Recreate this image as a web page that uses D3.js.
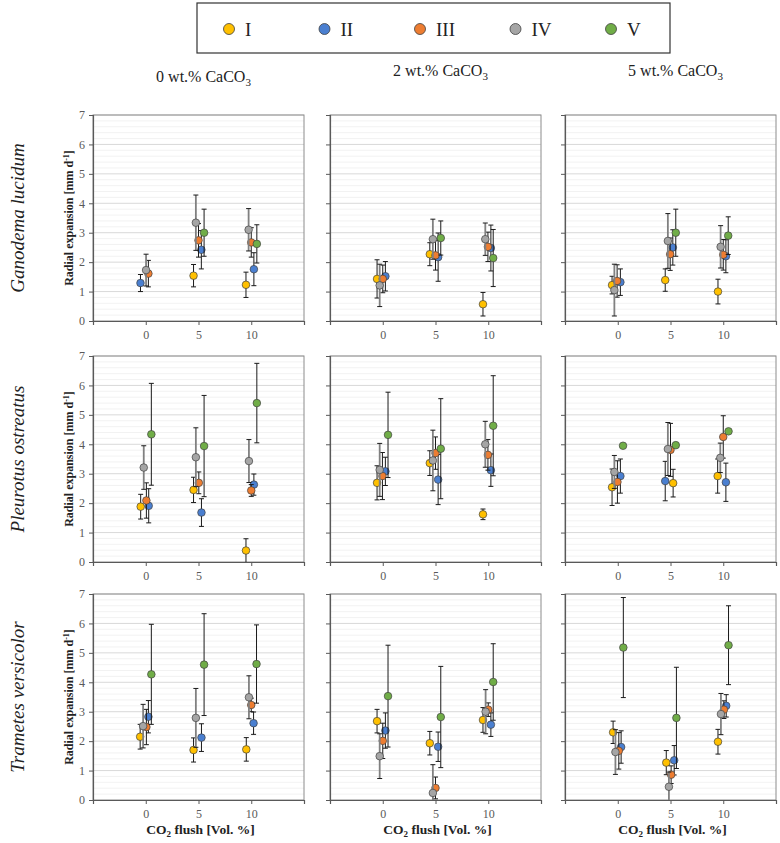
<!DOCTYPE html>
<html>
<head>
<meta charset="utf-8">
<script src="https://cdn.jsdelivr.net/npm/d3@7"></script>
<style>
  body { margin: 0; background: #fff; }
  svg { display: block; }
  svg text { font-family: "Liberation Serif", "DejaVu Serif", serif; }
</style>
</head>
<body>
<svg id="chart" width="780" height="843"></svg>
<script>
// Radial expansion of three fungi under CO2 flush, at three CaCO3 contents.

// ─── Data ────────────────────────────────────────────────────────────────────
const SERIES  = ['I', 'II', 'III', 'IV', 'V'];
const COLORS  = ['#FFC000', '#4A7FD0', '#ED7D31', '#A5A5A5', '#70AD47'];
const FUNGI   = ['Ganodema lucidum', 'Pleurotus ostreatus', 'Trametes versicolor'];
const CACO3   = ['0', '2', '5'];
const X_TICKS = [0, 5, 10];
const Y_TICKS = [0, 1, 2, 3, 4, 5, 6, 7];

// [series, x (CO2 flush, jittered), mean, ± error]
const GL_0 = [
  ['II', -0.5, 1.29, 0.29], ['IV', 0.03, 1.73, 0.54], ['III', 0.25, 1.61, 0.45],
  ['I', 4.53, 1.54, 0.38], ['IV', 4.75, 3.34, 0.94], ['III', 5.0, 2.74, 0.57], ['II', 5.27, 2.42, 0.65], ['V', 5.53, 3.0, 0.8],
  ['I', 9.5, 1.23, 0.43], ['IV', 9.75, 3.1, 0.72], ['III', 10.0, 2.67, 0.5], ['II', 10.25, 1.76, 0.56], ['V', 10.53, 2.62, 0.65],
];
const GL_2 = [
  ['I', -0.54, 1.43, 0.65], ['IV', -0.29, 1.21, 0.72], ['III', 0, 1.43, 0.47], ['II', 0.25, 1.52, 0.5],
  ['I', 4.46, 2.27, 0.39], ['IV', 4.75, 2.78, 0.68], ['III', 5.0, 2.23, 0.5], ['II', 5.25, 2.17, 0.82], ['V', 5.5, 2.82, 0.58],
  ['I', 9.5, 0.57, 0.4], ['IV', 9.72, 2.78, 0.55], ['III', 9.97, 2.52, 0.5], ['II', 10.25, 2.48, 0.78], ['V', 10.47, 2.14, 0.97],
];
const GL_5 = [
  ['I', -0.54, 1.22, 0.3], ['IV', -0.32, 1.05, 0.88], ['III', -0.06, 1.36, 0.55], ['II', 0.25, 1.32, 0.45],
  ['I', 4.5, 1.39, 0.38], ['IV', 4.75, 2.72, 0.93], ['III', 4.97, 2.27, 0.55], ['II', 5.22, 2.5, 0.6], ['V', 5.5, 3.0, 0.8],
  ['I', 9.5, 1.0, 0.42], ['IV', 9.75, 2.52, 0.72], ['III', 10.0, 2.25, 0.52], ['II', 10.25, 2.2, 0.56], ['V', 10.47, 2.9, 0.64],
];
const PO_0 = [
  ['I', -0.48, 1.88, 0.42], ['IV', -0.19, 3.21, 0.74], ['III', 0.06, 2.09, 0.6], ['II', 0.28, 1.91, 0.58], ['V', 0.53, 4.34, 1.73],
  ['I', 4.53, 2.45, 0.43], ['IV', 4.75, 3.56, 1.0], ['III', 5.03, 2.69, 0.37], ['II', 5.28, 1.68, 0.47], ['V', 5.53, 3.94, 1.72],
  ['I', 9.5, 0.39, 0.4], ['IV', 9.78, 3.43, 0.73], ['III', 10.0, 2.43, 0.2], ['II', 10.25, 2.63, 0.36], ['V', 10.53, 5.4, 1.35],
];
const PO_2 = [
  ['I', -0.54, 2.69, 0.58], ['IV', -0.29, 3.13, 0.9], ['III', -0.03, 2.92, 0.8], ['II', 0.25, 3.08, 0.48], ['V', 0.5, 4.32, 1.45],
  ['I', 4.46, 3.36, 0.42], ['IV', 4.75, 3.45, 1.03], ['III', 5.0, 3.7, 0.55], ['II', 5.25, 2.8, 0.85], ['V', 5.5, 3.85, 1.7],
  ['I', 9.5, 1.62, 0.18], ['IV', 9.72, 4.0, 0.78], ['III', 9.97, 3.64, 0.52], ['II', 10.25, 3.12, 0.55], ['V', 10.47, 4.63, 1.7],
];
const PO_5 = [
  ['I', -0.54, 2.54, 0.62], ['IV', -0.32, 3.06, 0.56], ['III', -0.03, 2.72, 0.72], ['II', 0.25, 2.92, 0.58], ['V', 0.5, 3.95, 0],
  ['II', 4.5, 2.75, 0.67], ['IV', 4.75, 3.84, 0.9], ['III', 5.0, 3.81, 0.9], ['I', 5.25, 2.68, 0.47], ['V', 5.5, 3.97, 0],
  ['I', 9.47, 2.92, 0.58], ['IV', 9.72, 3.54, 0.5], ['III', 10.0, 4.25, 0.72], ['II', 10.25, 2.71, 0.65], ['V', 10.5, 4.44, 0],
];
const TV_0 = [
  ['I', -0.53, 2.15, 0.42], ['IV', -0.25, 2.51, 0.74], ['III', 0.06, 2.48, 0.6], ['II', 0.25, 2.83, 0.55], ['V', 0.53, 4.27, 1.7],
  ['I', 4.53, 1.7, 0.41], ['IV', 4.75, 2.79, 1.0], ['II', 5.28, 2.12, 0.47], ['V', 5.53, 4.6, 1.73],
  ['I', 9.53, 1.72, 0.4], ['IV', 9.78, 3.49, 0.73], ['III', 10.0, 3.23, 0.23], ['II', 10.22, 2.61, 0.38], ['V', 10.5, 4.62, 1.33],
];
const TV_2 = [
  ['I', -0.54, 2.68, 0.4], ['IV', -0.29, 1.49, 0.76], ['III', 0, 2.01, 0.6], ['II', 0.25, 2.36, 0.6], ['V', 0.5, 3.53, 1.73],
  ['I', 4.46, 1.93, 0.4], ['IV', 4.75, 0.24, 0.96], ['III', 5.0, 0.41, 0.37], ['II', 5.25, 1.81, 0.5], ['V', 5.5, 2.82, 1.72],
  ['I', 9.5, 2.72, 0.42], ['IV', 9.75, 3.0, 0.75], ['III', 10.0, 3.07, 0.23], ['II', 10.25, 2.56, 0.4], ['V', 10.47, 4.01, 1.3],
];
const TV_5 = [
  ['I', -0.44, 2.3, 0.38], ['IV', -0.22, 1.63, 0.76], ['III', 0.1, 1.67, 0.62], ['II', 0.32, 1.8, 0.55], ['V', 0.53, 5.18, 1.7],
  ['I', 4.6, 1.27, 0.41], ['IV', 4.85, 0.45, 0.5], ['III', 5.06, 0.86, 0.3], ['II', 5.35, 1.35, 0.5], ['V', 5.56, 2.79, 1.72],
  ['I', 9.5, 1.98, 0.42], ['IV', 9.78, 2.92, 0.7], ['III', 10.06, 3.07, 0.3], ['II', 10.28, 3.2, 0.38], ['V', 10.5, 5.26, 1.34],
];

const PANELS = [
  [GL_0, GL_2, GL_5],
  [PO_0, PO_2, PO_5],
  [TV_0, TV_2, TV_5],
];

// ─── Layout ──────────────────────────────────────────────────────────────────
const SERIF  = '"Liberation Serif", "DejaVu Serif", serif';
const COL_X  = [93, 330, 565];
const ROW_Y  = [115, 356, 594];
const PW = 211, PH = 206;

const svg = d3.select('#chart').attr('font-family', SERIF);

const x = d3.scaleLinear().domain([-5, 15]).range([0, PW]);
const y = d3.scaleLinear().domain([0, 7]).range([PH, 0]);

// ─── Legend ──────────────────────────────────────────────────────────────────
svg.append('rect')
  .attr('x', 197).attr('y', 3).attr('width', 473).attr('height', 50)
  .attr('fill', '#fff').attr('stroke', '#333').attr('stroke-width', 1.2);

const legX = d3.scalePoint().domain(SERIES).range([229, 611]);
const leg = svg.append('g').selectAll('g').data(SERIES).join('g')
  .attr('transform', s => `translate(${legX(s)},29)`);
leg.append('circle').attr('r', 5.5)
  .attr('fill', (s, i) => COLORS[i]).attr('stroke', '#404040').attr('stroke-width', 0.8);
leg.append('text').attr('x', 16).attr('y', 6.5)
  .attr('font-family', SERIF)
  .attr('font-size', 19).attr('fill', '#222').text(s => s);

// ─── Column / row titles ─────────────────────────────────────────────────────
const COL_TITLE_Y = [82, 76, 76];
CACO3.forEach((c, ci) => {
  const t = svg.append('text')
    .attr('x', COL_X[ci] + PW / 2 + 5)
    .attr('y', COL_TITLE_Y[ci])
    .attr('text-anchor', 'middle')
    .attr('font-family', SERIF)
    .attr('font-size', 16).attr('fill', '#222');
  t.append('tspan').text(`${c} wt.% CaCO`);
  t.append('tspan').attr('font-size', 11).attr('dy', 4).text('3');
});

FUNGI.forEach((f, ri) => {
  svg.append('text')
    .attr('transform', `translate(24,${ROW_Y[ri] + PH / 2}) rotate(-90)`)
    .attr('text-anchor', 'middle')
    .attr('font-family', SERIF)
    .attr('font-size', 19).attr('font-style', 'italic').attr('fill', '#222')
    .text(f);

  const yt = svg.append('text')
    .attr('transform', `translate(73,${ROW_Y[ri] + PH / 2}) rotate(-90)`)
    .attr('text-anchor', 'middle')
    .attr('font-family', SERIF)
    .attr('font-size', 12).attr('font-weight', 'bold').attr('fill', '#222');
  yt.append('tspan').text('Radial expansion [mm d');
  yt.append('tspan').attr('font-size', 8).attr('dy', -4).text('-1');
  yt.append('tspan').attr('dy', 4).text(']');
});

// ─── Panels ──────────────────────────────────────────────────────────────────
PANELS.forEach((row, ri) => {
  row.forEach((pts, ci) => {
    const g = svg.append('g')
      .attr('transform', `translate(${COL_X[ci]},${ROW_Y[ri]})`);

    const clipId = `clip-${ri}-${ci}`;
    g.append('clipPath').attr('id', clipId)
      .append('rect').attr('width', PW).attr('height', PH);

    // gridlines (minor every 0.2, major every 1)
    const minor = d3.range(0.2, 7, 0.2).filter(v => Math.abs(v - Math.round(v)) > 0.01);
    g.selectAll('line.minor').data(minor).join('line')
      .attr('x1', 0).attr('x2', PW)
      .attr('y1', d => y(d)).attr('y2', d => y(d))
      .attr('stroke', '#efefef').attr('stroke-width', 0.8);
    g.selectAll('line.major').data(Y_TICKS.slice(1)).join('line')
      .attr('x1', 0).attr('x2', PW)
      .attr('y1', d => y(d)).attr('y2', d => y(d))
      .attr('stroke', '#d9d9d9').attr('stroke-width', 1);

    // frame
    g.append('rect').attr('width', PW).attr('height', PH)
      .attr('fill', 'none').attr('stroke', '#8c8c8c').attr('stroke-width', 1);

    // axes
    const yAxis = d3.axisLeft(y).tickValues(Y_TICKS).tickSize(4)
      .tickFormat(ci === 0 ? d3.format('d') : '');
    const ya = g.append('g').call(yAxis).attr('font-family', SERIF);
    ya.select('.domain').attr('stroke', '#595959').attr('stroke-width', 1.2);
    ya.selectAll('.tick line').attr('stroke', '#595959');
    ya.selectAll('.tick text').attr('font-size', 12).attr('fill', '#595959').attr('x', -8);

    const xAxis = d3.axisBottom(x).tickValues([-5, 0, 5, 10, 15]).tickSize(4)
      .tickFormat(d => X_TICKS.includes(d) ? d : '');
    const xa = g.append('g').attr('transform', `translate(0,${PH})`).call(xAxis)
      .attr('font-family', SERIF);
    xa.select('.domain').attr('stroke', '#595959').attr('stroke-width', 1.2);
    xa.selectAll('.tick line').attr('stroke', '#595959');
    xa.selectAll('.tick text').attr('font-size', 12).attr('fill', '#595959').attr('y', 9);

    // points in series order: error bar, then marker
    const sorted = pts.slice().sort((a, b) => SERIES.indexOf(a[0]) - SERIES.indexOf(b[0]));
    const marks = g.append('g').attr('clip-path', `url(#${clipId})`);
    sorted.forEach(([s, xv, yv, e]) => {
      const si = SERIES.indexOf(s);
      const col = si === 3 ? '#808080' : '#1a1a1a';
      const sw  = si === 3 ? 1.8 : 1;
      if (e > 0) {
        const cx = x(xv);
        marks.append('line')
          .attr('x1', cx).attr('x2', cx)
          .attr('y1', y(yv - e)).attr('y2', y(yv + e))
          .attr('stroke', col).attr('stroke-width', sw);
        [yv - e, yv + e].filter(v => v > 0 && v < 7).forEach(v => {
          marks.append('line')
            .attr('x1', cx - 2.5).attr('x2', cx + 2.5)
            .attr('y1', y(v)).attr('y2', y(v))
            .attr('stroke', '#1a1a1a').attr('stroke-width', 1);
        });
      }
      marks.append('circle')
        .attr('cx', x(xv)).attr('cy', y(yv)).attr('r', 3.8)
        .attr('fill', COLORS[si]).attr('stroke', '#404040').attr('stroke-width', 0.7);
    });

    // x-axis title on bottom row
    if (ri === 2) {
      const xt = g.append('text')
        .attr('x', PW / 2 + 2).attr('y', PH + 34)
        .attr('text-anchor', 'middle')
        .attr('font-family', SERIF)
        .attr('font-size', 13.5).attr('font-weight', 'bold').attr('fill', '#222');
      xt.append('tspan').text('CO');
      xt.append('tspan').attr('font-size', 9).attr('dy', 3).text('2');
      xt.append('tspan').attr('dy', -3).text(' flush [Vol. %]');
    }
  });
});
</script>
</body>
</html>
